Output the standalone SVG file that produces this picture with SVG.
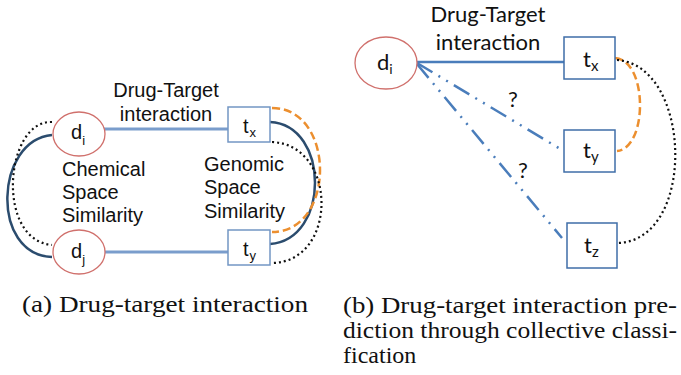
<svg xmlns="http://www.w3.org/2000/svg" width="681" height="375" viewBox="0 0 681 375">
<style>
.ell{fill:#fff;stroke:#d0706c;stroke-width:1.3}
.boxL{fill:#fff;stroke:#7396c4;stroke-width:1.5}
.boxR{fill:#fff;stroke:#3f6ea8;stroke-width:1.5}
.sans{font-family:"Liberation Sans",Arial,sans-serif;font-size:20px;fill:#111}
.lato{font-family:Lato,"Open Sans",sans-serif;font-size:22px;fill:#111}
.cap{font-family:'Liberation Serif',serif;font-size:24px;fill:#111}
.linkL{stroke:#7a9dcc;stroke-width:3;fill:none}
.linkR{stroke:#4a7dbb;stroke-width:2.5;fill:none}
.pred{stroke:#4a7dbb;stroke-width:2.5;fill:none;stroke-dasharray:18 7 2 7 2 7}
.navy{stroke:#2b4c6e;stroke-width:2.5;fill:none}
.orange{stroke:#ec8f2f;stroke-width:2.5;fill:none;stroke-dasharray:8 4}
.dot{stroke:#111;stroke-width:2.2;fill:none;stroke-dasharray:2 3}
</style>
<g id="connectors">
  <line class="linkL" x1="104" y1="129" x2="228" y2="129"/>
  <line class="linkL" x1="105" y1="252" x2="228" y2="252"/>
  <path class="navy" d="M52 135 C-5 140,-10 255,52 257"/>
  <path class="dot" d="M52 122 C5 120,-5 240,52 245"/>
  <path class="navy" d="M270 122 C330 125,330 240,270 244"/>
  <path class="orange" d="M272 108 C336 108,336 232,272 232"/>
  <path class="dot" d="M272 142 C338 145,338 262,272 263"/>
  <line class="linkR" x1="417" y1="62" x2="564" y2="62"/>
  <line class="pred" x1="417" y1="63" x2="562" y2="150"/>
  <line class="pred" x1="417" y1="64" x2="562" y2="238"/>
  <path class="orange" d="M615 58 C648 60,648 148,617 151"/>
  <path class="dot" d="M617 60 C692 65,697 240,618 243"/>
</g>
<g id="labelsA">
  <text class="sans" x="166" y="97" text-anchor="middle">Drug-Target</text>
  <text class="sans" x="166" y="121" text-anchor="middle">interaction</text>
  <text class="sans" x="62" y="176">Chemical</text>
  <text class="sans" x="62" y="199">Space</text>
  <text class="sans" x="62" y="222">Similarity</text>
  <text class="sans" x="204" y="171">Genomic</text>
  <text class="sans" x="204" y="194">Space</text>
  <text class="sans" x="204" y="218">Similarity</text>
</g>
<g id="a_di">
  <ellipse class="ell" cx="79" cy="134" rx="26" ry="22"/>
  <text class="sans" x="71" y="139">d<tspan font-size="13" dy="6">i</tspan></text>
</g>
<g id="a_dj">
  <ellipse class="ell" cx="79" cy="252" rx="26" ry="22"/>
  <text class="sans" x="71" y="258">d<tspan font-size="13" dy="6">j</tspan></text>
</g>
<g id="a_tx">
  <rect class="boxL" x="228" y="107" width="42" height="35"/>
  <text class="sans" x="243" y="133">t<tspan font-size="13" dx="1" dy="4">x</tspan></text>
</g>
<g id="a_ty">
  <rect class="boxL" x="228" y="230" width="42" height="35"/>
  <text class="sans" x="243" y="256">t<tspan font-size="13" dx="1" dy="4">y</tspan></text>
</g>
<g id="labelsB">
  <text class="lato" x="488" y="22" text-anchor="middle">Drug-Target</text>
  <text class="lato" x="488" y="50" text-anchor="middle">interaction</text>
  <text class="lato" x="513" y="107" text-anchor="middle">?</text>
  <text class="lato" x="523" y="178" text-anchor="middle">?</text>
</g>
<g id="b_di">
  <ellipse class="ell" cx="386" cy="63" rx="31" ry="26"/>
  <text class="lato" x="377" y="70">d<tspan font-size="14" dy="4">i</tspan></text>
</g>
<g id="b_tx">
  <rect class="boxR" x="564" y="37" width="51" height="42"/>
  <text class="lato" x="583" y="67">t<tspan font-size="15" dy="4">x</tspan></text>
</g>
<g id="b_ty">
  <rect class="boxR" x="564" y="130" width="51" height="42"/>
  <text class="lato" x="583" y="158">t<tspan font-size="15" dy="4">y</tspan></text>
</g>
<g id="b_tz">
  <rect class="boxR" x="567" y="223" width="50" height="45"/>
  <text class="lato" x="584" y="253">t<tspan font-size="15" dy="4">z</tspan></text>
</g>
<g id="captions">
  <text class="cap" x="22" y="312" textLength="286" lengthAdjust="spacingAndGlyphs">(a) Drug-target interaction</text>
  <text class="cap" x="343" y="313" textLength="334" lengthAdjust="spacingAndGlyphs">(b) Drug-target interaction pre-</text>
  <text class="cap" x="343" y="338" textLength="334" lengthAdjust="spacingAndGlyphs">diction through collective classi-</text>
  <text class="cap" x="343" y="363">fication</text>
</g>
</svg>
